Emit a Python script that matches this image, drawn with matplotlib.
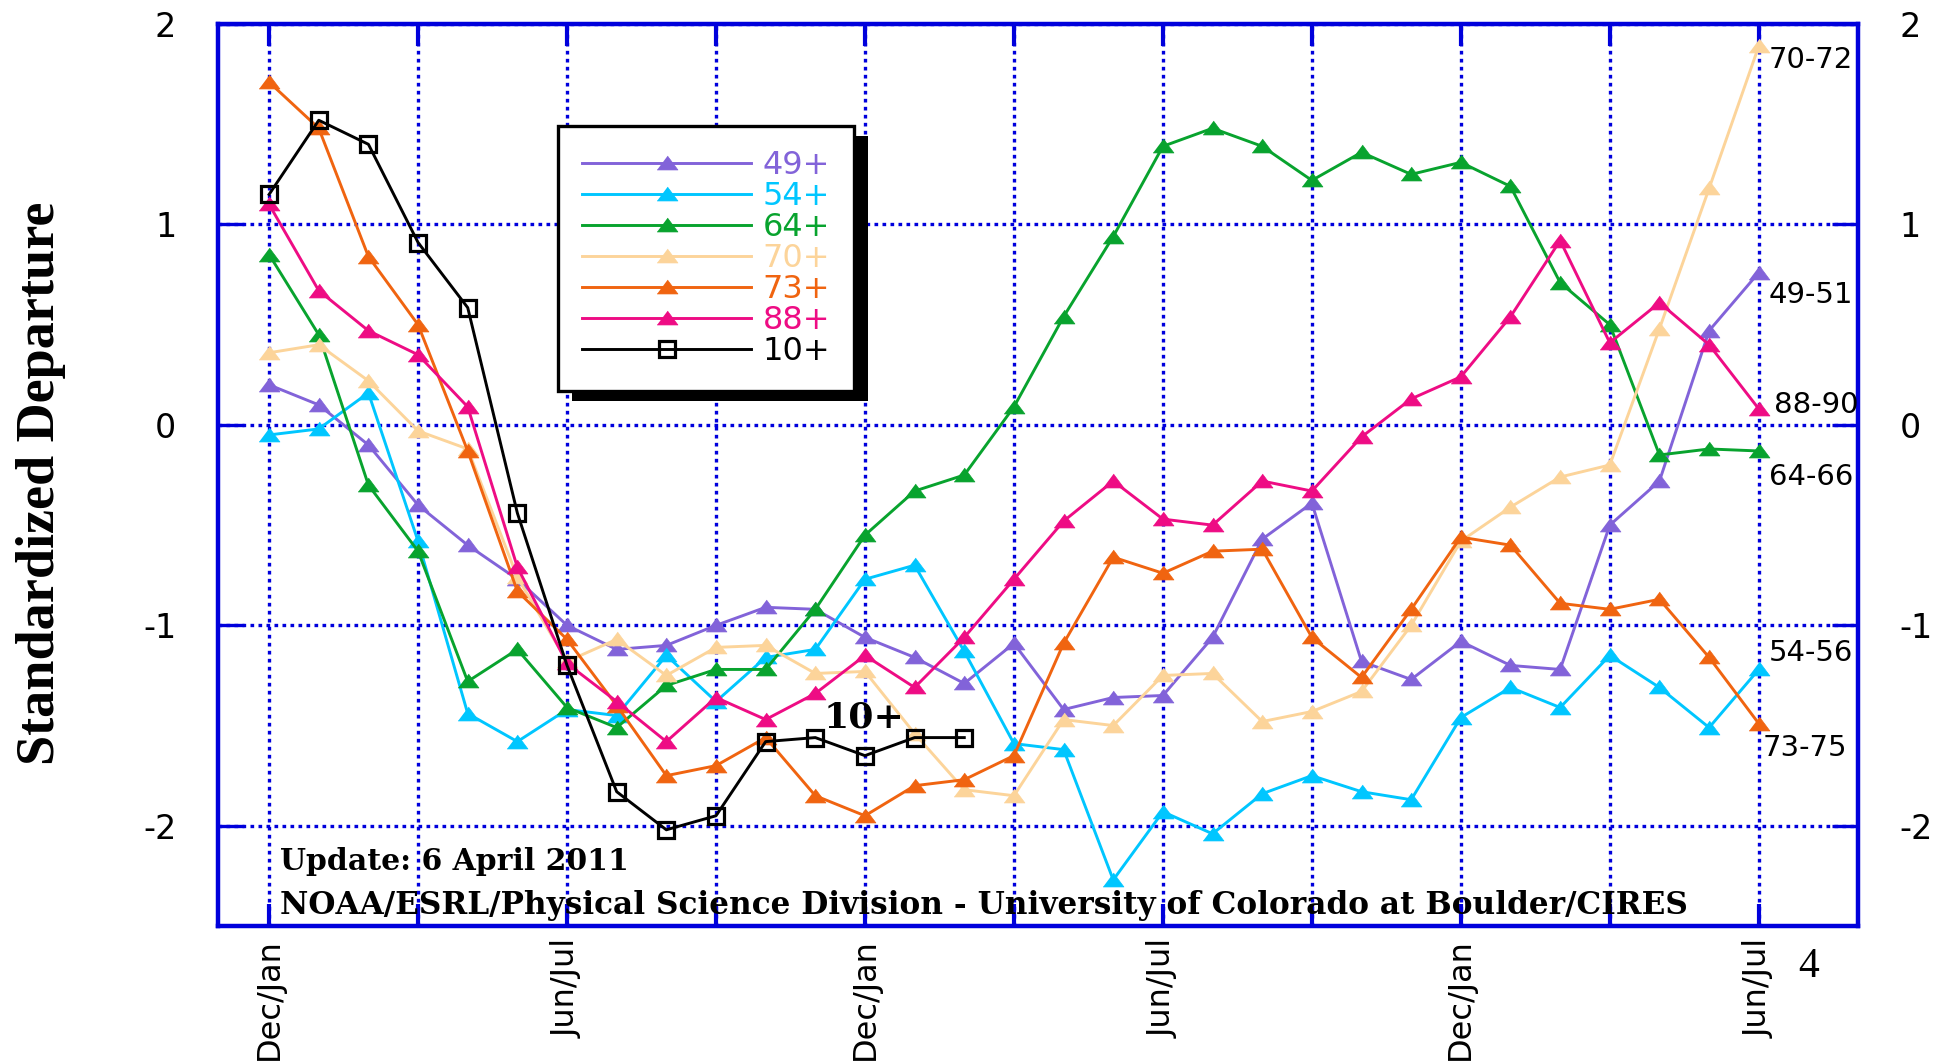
import numpy as np
import matplotlib
matplotlib.use('Agg')
import matplotlib.pyplot as plt
from matplotlib.patches import Rectangle
from matplotlib.transforms import IdentityTransform

# ---------------- data ----------------
seasons = np.arange(31)                      # bimonthly seasons, Dec/Jan ... Jun/Jul
tick_positions = list(range(0, 31, 3))
tick_labels = ['Dec/Jan', '', 'Jun/Jul', '', 'Dec/Jan', '', 'Jun/Jul', '',
               'Dec/Jan', '', 'Jun/Jul']
ytick_values = [-2, -1, 0, 1, 2]

s49 = [0.20, 0.10, -0.10, -0.40, -0.60, -0.77, -1.00, -1.12, -1.10, -1.00, -0.91,
       -0.92, -1.06, -1.16, -1.29, -1.09, -1.42, -1.36, -1.35, -1.06, -0.57,
       -0.39, -1.18, -1.27, -1.08, -1.20, -1.22, -0.50, -0.28, 0.47, 0.76]
s54 = [-0.05, -0.02, 0.16, -0.58, -1.44, -1.58, -1.42, -1.45, -1.15, -1.38, -1.16,
       -1.12, -0.77, -0.70, -1.13, -1.59, -1.62, -2.27, -1.93, -2.04, -1.84,
       -1.75, -1.83, -1.87, -1.46, -1.31, -1.41, -1.15, -1.31, -1.51, -1.22]
s64 = [0.85, 0.45, -0.30, -0.63, -1.28, -1.12, -1.41, -1.51, -1.30, -1.22, -1.22,
       -0.92, -0.55, -0.33, -0.25, 0.09, 0.54, 0.94, 1.39, 1.48, 1.39,
       1.22, 1.36, 1.25, 1.31, 1.19, 0.71, 0.50, -0.15, -0.12, -0.13]
s70 = [0.36, 0.40, 0.22, -0.03, -0.12, -0.76, -1.18, -1.07, -1.25, -1.11, -1.10,
       -1.24, -1.23, -1.54, -1.82, -1.85, -1.47, -1.50, -1.25, -1.24, -1.48,
       -1.43, -1.33, -1.00, -0.58, -0.41, -0.26, -0.20, 0.48, 1.18, 1.89]
s73 = [1.71, 1.48, 0.84, 0.50, -0.13, -0.83, -1.07, -1.40, -1.75, -1.70, -1.56,
       -1.85, -1.95, -1.80, -1.77, -1.65, -1.09, -0.66, -0.74, -0.63, -0.62,
       -1.06, -1.26, -0.92, -0.56, -0.60, -0.89, -0.92, -0.87, -1.16, -1.49]
s88 = [1.10, 0.67, 0.47, 0.35, 0.09, -0.71, -1.19, -1.38, -1.58, -1.36, -1.47,
       -1.34, -1.15, -1.31, -1.06, -0.77, -0.48, -0.28, -0.47, -0.50, -0.28,
       -0.33, -0.06, 0.13, 0.24, 0.54, 0.92, 0.41, 0.61, 0.40, 0.08]
s10 = [1.15, 1.52, 1.40, 0.91, 0.585, -0.44, -1.20, -1.83, -2.02, -1.95, -1.58,
       -1.56, -1.65, -1.56, -1.56]

series_labels = ['49+', '54+', '64+', '70+', '73+', '88+']
series_values = [s49, s54, s64, s70, s73, s88]
series_colors = ['#8263d9', '#00c6ff', '#08a32e', '#fcd49a', '#f06410', '#ee0c84']
end_labels = ['49-51', '54-56', '64-66', '70-72', '73-75', '88-90']

# ---------------- style ----------------
BLUE = '#0000dc'
tri = [(-1, -0.62), (1, -0.62), (0, 0.72)]

fig = plt.figure(figsize=(19.53, 10.64), dpi=100)
ax = fig.add_axes([0.1116, 0.1297, 0.9514 - 0.1116, 0.9774 - 0.1297])
ax.set_xlim(-1.03, 32.0)
ax.set_ylim(-2.5, 2.0)

handles = []
for lab, vals, col in zip(series_labels, series_values, series_colors):
    h, = ax.plot(seasons[:len(vals)], vals, color=col, lw=2.1, marker=tri,
                 markersize=15, markerfacecolor=col, markeredgecolor=col,
                 markeredgewidth=0.5, label=lab, zorder=3)
    handles.append(h)
h10, = ax.plot(seasons[:len(s10)], s10, color='black', lw=2.1, marker='s',
               markersize=11.5, markerfacecolor='none', markeredgecolor='black',
               markeredgewidth=2.3, label='10+', zorder=4)
handles.append(h10)

# grid
ax.set_axisbelow(True)
ax.grid(True, color=BLUE, linestyle=(0, (1.1, 1.3)), linewidth=2.4)

for sp in ax.spines.values():
    sp.set_color(BLUE)
    sp.set_linewidth(3.2)

ax.set_xticks(tick_positions)
ax.set_xticklabels(tick_labels, rotation=90, fontsize=23, family='DejaVu Sans',
                   va='top', ha='center')
ax.set_yticks(ytick_values)
ax.set_yticklabels([str(v) for v in ytick_values], fontsize=24, family='DejaVu Sans')
ax.tick_params(axis='x', which='both', direction='in', length=16, width=3,
               color=BLUE, top=True, bottom=True, pad=9)
ax.tick_params(axis='y', which='both', direction='in', length=19, width=2.4,
               color=BLUE, left=True, right=True, labelleft=True, labelright=True,
               pad=30)

# legend
leg = ax.legend(handles=handles, loc='upper left', bbox_to_anchor=(0.2073, 0.887),
                borderaxespad=0, fontsize=23, labelcolor='linecolor',
                fancybox=False, framealpha=1, edgecolor='black',
                handlelength=5.3, handletextpad=0.35, labelspacing=0.0,
                borderpad=0.75, numpoints=1)
leg.get_frame().set_linewidth(2.4)
leg.set_zorder(6)

# annotations
ax.text(11.98, -1.46, '10+', fontsize=26, family='DejaVu Serif', weight='bold',
        ha='center', va='center', zorder=5)
ax.text(0.0378, 0.071, 'Update: 6 April 2011', transform=ax.transAxes,
        fontsize=21.5, family='DejaVu Serif', weight='bold', va='center', ha='left')
ax.text(0.0378, 0.023,
        'NOAA/ESRL/Physical Science Division - University of Colorado at Boulder/CIRES',
        transform=ax.transAxes, fontsize=22.4, family='DejaVu Serif', weight='bold',
        va='center', ha='left')

end_pos = {'49-51': (30.2, 0.65), '54-56': (30.2, -1.14), '64-66': (30.2, -0.26),
           '70-72': (30.2, 1.82), '73-75': (30.08, -1.61), '88-90': (30.3, 0.10)}
for lab in end_labels:
    x, y = end_pos[lab]
    ax.text(x, y, lab, fontsize=21, family='DejaVu Sans', ha='left', va='center',
            clip_on=False, zorder=5)

fig.text(0.021, 0.546, 'Standardized Departure', rotation=90, fontsize=39,
         family='Liberation Serif', weight='bold', ha='center', va='center')
fig.text(0.926, 0.0912, '4', fontsize=30, family='Liberation Serif',
         ha='center', va='center')

# legend drop shadow
fig.canvas.draw()
bb = leg.get_window_extent(fig.canvas.get_renderer())
shadow = Rectangle((bb.x0 + 14, bb.y0 - 10), bb.width, bb.height,
                   transform=IdentityTransform(), facecolor='black',
                   edgecolor='none', zorder=5.9, clip_on=False)
ax.add_artist(shadow)

fig.savefig('out.png', dpi=100, facecolor='white')
